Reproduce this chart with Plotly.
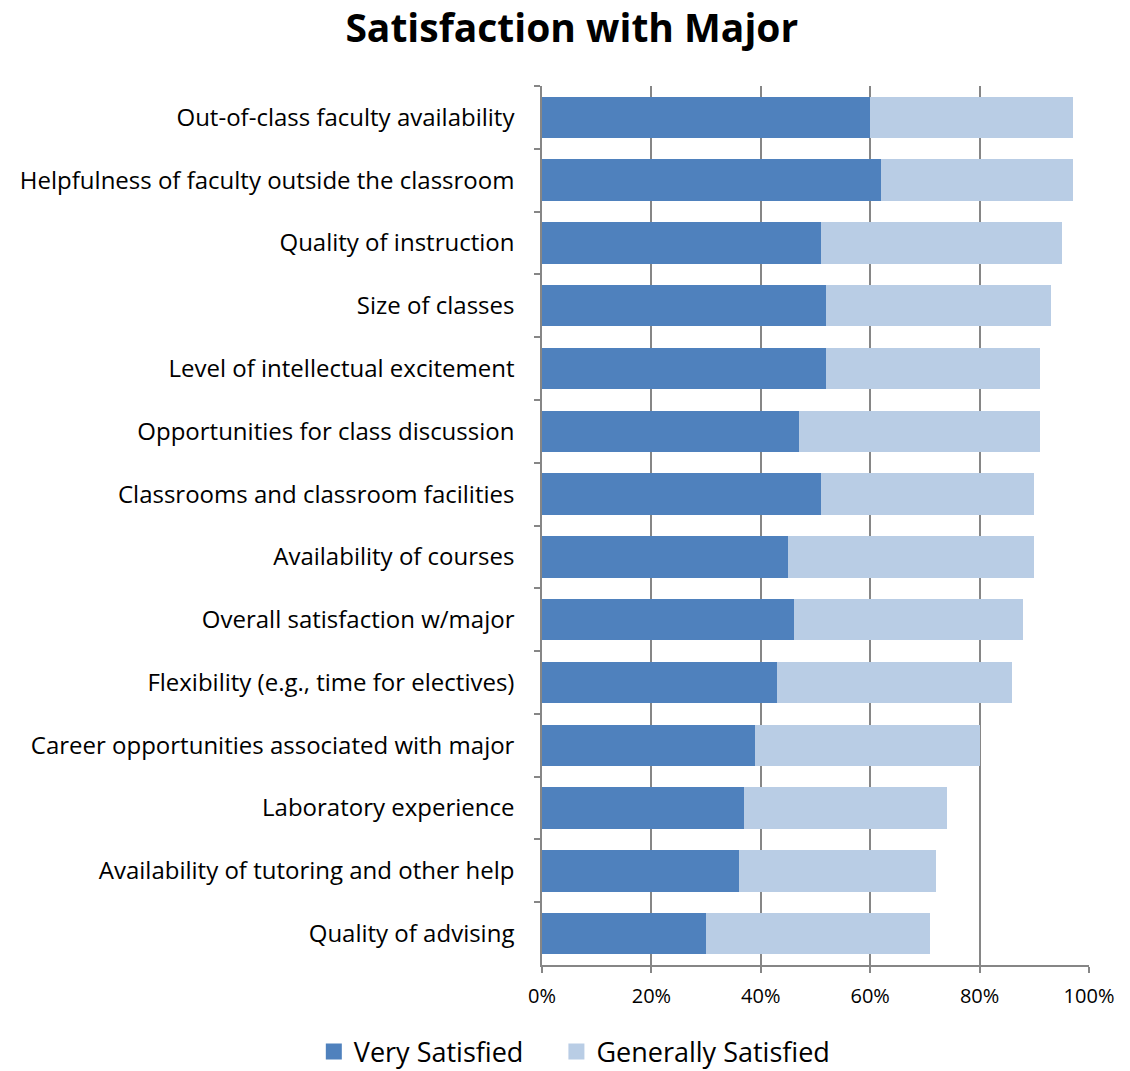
import plotly.graph_objects as go

categories = [
    "Out-of-class faculty availability",
    "Helpfulness of faculty outside the classroom",
    "Quality of instruction",
    "Size of classes",
    "Level of intellectual excitement",
    "Opportunities for class discussion",
    "Classrooms and classroom facilities",
    "Availability of courses",
    "Overall satisfaction w/major",
    "Flexibility (e.g., time for electives)",
    "Career opportunities associated with major",
    "Laboratory experience",
    "Availability of tutoring and other help",
    "Quality of advising",
]
very_satisfied = [60, 62, 51, 52, 52, 47, 51, 45, 46, 43, 39, 37, 36, 30]
generally_satisfied = [37, 35, 44, 41, 39, 44, 39, 45, 42, 43, 41, 37, 36, 41]
x_ticks = [0, 20, 40, 60, 80, 100]
x_tick_labels = ["0%", "20%", "40%", "60%", "80%", "100%"]
series_names = ["Very Satisfied", "Generally Satisfied"]
series_colors = ["#4F81BD", "#B9CDE5"]

FONT = "Open Sans"
NBSP = "\u00a0"
fig = go.Figure()
for name, vals, col in zip(series_names, [very_satisfied, generally_satisfied], series_colors):
    fig.add_trace(go.Bar(
        y=categories, x=[v / 100 for v in vals], orientation="h",
        name=name, marker=dict(color=col, line=dict(width=0)), showlegend=False,
    ))
# legend entries with square swatches (padding after the first for spacing)
for i, (name, col) in enumerate(zip(series_names, series_colors)):
    label = name + (NBSP * 4 if i == 0 else "")
    fig.add_trace(go.Scatter(
        x=[None], y=[None], mode="markers", name=label,
        marker=dict(symbol="square", size=18, color=col), showlegend=True,
    ))

fig.update_layout(
    width=1130, height=1071,
    barmode="stack", bargap=0.34,
    paper_bgcolor="white", plot_bgcolor="white",
    margin=dict(l=542, r=41, t=86, b=106, autoexpand=False),
    font=dict(family=FONT, color="black"),
    title=dict(text="<b>Satisfaction with Major</b>", x=0.506, xanchor="center",
               y=0.9735, yanchor="middle", font=dict(size=39, family=FONT)),
    legend=dict(orientation="h", x=0.060, xanchor="center", y=-0.099, yanchor="middle",
                font=dict(size=27, family=FONT), itemwidth=30, traceorder="normal"),
    showlegend=True,
)
fig.update_xaxes(
    range=[0, 1], tickvals=[t / 100 for t in x_ticks], ticktext=x_tick_labels,
    showgrid=True, gridcolor="#868686", gridwidth=1.5,
    showline=True, linecolor="#868686", linewidth=1.5,
    ticks="outside", ticklen=6, tickcolor="#868686", tickwidth=1.5,
    tickfont=dict(size=20, family=FONT), zeroline=False, fixedrange=True,
    ticklabelstandoff=6,
)
fig.update_yaxes(
    autorange="reversed", tickson="boundaries",
    showline=True, linecolor="#868686", linewidth=1.5,
    ticks="outside", ticklen=6, tickcolor="#868686", tickwidth=1.5,
    tickfont=dict(size=24, family=FONT), ticklabelstandoff=21,
    showgrid=False, fixedrange=True,
)

fig.write_html(
    "out.html",
    config={"displayModeBar": False},
    post_script="document.body.style.margin='0';document.body.style.overflow='hidden';",
)
